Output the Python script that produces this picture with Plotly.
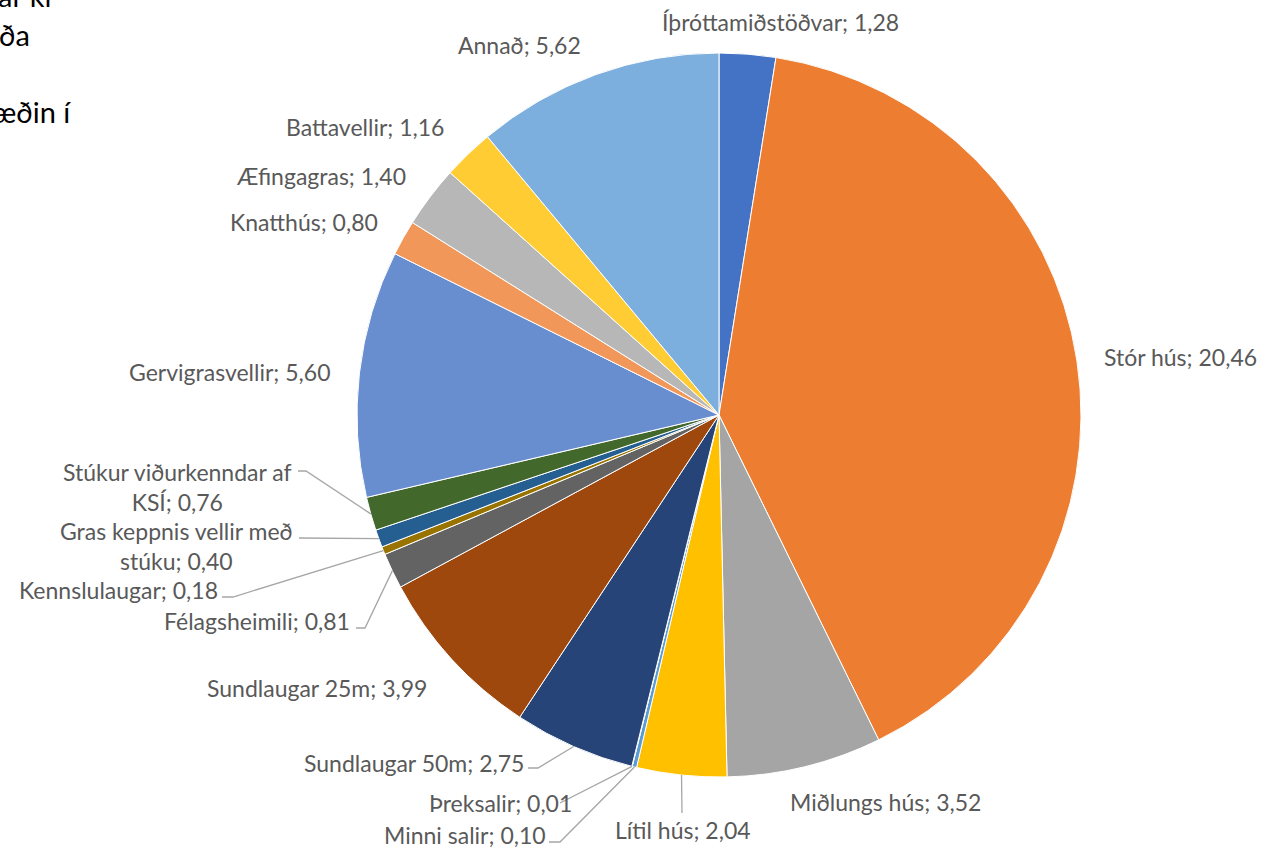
import math
import plotly.graph_objects as go

# ---------------- data ----------------
labels = ["Íþróttamiðstöðvar", "Stór hús", "Miðlungs hús", "Lítil hús", "Minni salir",
          "Þreksalir", "Sundlaugar 50m", "Sundlaugar 25m", "Félagsheimili", "Kennslulaugar",
          "Gras keppnis vellir með stúku", "Stúkur viðurkenndar af KSÍ", "Gervigrasvellir",
          "Knatthús", "Æfingagras", "Battavellir", "Annað"]
values = [1.28, 20.46, 3.52, 2.04, 0.10, 0.01, 2.75, 3.99, 0.81, 0.18, 0.40, 0.76,
          5.60, 0.80, 1.40, 1.16, 5.62]
colors = ["#4472C4", "#ED7D31", "#A5A5A5", "#FFC000", "#5B9BD5", "#70AD47", "#264478",
          "#9E480E", "#636363", "#997300", "#255E91", "#43682B", "#698ED0", "#F1975A",
          "#B7B7B7", "#FFCD33", "#7CAFDD"]
doc_text = ["ar ki", "ða", "æðin í"]   # partially visible surrounding document text

# ---------------- layout (pixels) ----------------
W, H = 1274, 849
CX, CY, R = 719, 415, 362
FONT = "Lato"
FONT_SIZE = 23
LABEL_COLOR = "#595959"
LINE_COLOR = "#A6A6A6"

wrap = {"Gras keppnis vellir með stúku": "Gras keppnis vellir með<br>stúku",
        "Stúkur viðurkenndar af KSÍ": "Stúkur viðurkenndar af<br>KSÍ"}

# label centre (px) and leader-line elbow points (px) per slice index
label_pos = {
    0: (780, 22, None),
    1: (1180, 357, None),
    2: (885, 802, None),
    3: (683, 830, [(682, 813)]),
    4: (465, 835, [(549, 842), (560, 842)]),
    5: (500, 803, [(560, 803)]),
    6: (414, 763, [(528, 768), (538, 768)]),
    7: (317, 688, None),
    8: (257, 621, [(356, 628), (365, 628)]),
    9: (118, 590, [(222, 597), (233, 597)]),
    10: (176, 546, [(299, 538)]),
    11: (177, 487, [(298, 471), (306, 471)]),
    12: (230, 372, None),
    13: (304, 222, None),
    14: (321, 176, None),
    15: (365, 127, None),
    16: (519, 45, None),
}

def px(x):
    return x / W

def py(y):
    return 1 - y / H

fig = go.Figure(go.Pie(
    labels=labels, values=values, sort=False, direction="clockwise", rotation=0,
    marker=dict(colors=colors, line=dict(color="white", width=1)),
    textinfo="none", hoverinfo="label+value", showlegend=False,
    domain=dict(x=[px(CX - R), px(CX + R)], y=[py(CY + R), py(CY - R)]),
))

total = sum(values)
annotations = []
shapes = []
cum = 0.0
for i, (lab, v) in enumerate(zip(labels, values)):
    mid = (cum + v / 2) / total * 2 * math.pi
    cum += v
    ax = CX + R * math.sin(mid)
    ay = CY - R * math.cos(mid)
    lx, ly, elbows = label_pos[i]
    txt = wrap.get(lab, lab) + "; " + f"{v:.2f}".replace(".", ",")
    annotations.append(dict(
        x=px(lx), y=py(ly), xref="paper", yref="paper", text=txt, showarrow=False,
        xanchor="center", yanchor="middle", align="center",
        font=dict(family=FONT, size=FONT_SIZE, color=LABEL_COLOR)))
    if elbows:
        pts = elbows + [(ax, ay)]
        path = "M " + " L ".join(f"{px(x):.5f},{py(y):.5f}" for x, y in pts)
        shapes.append(dict(type="path", path=path, xref="paper", yref="paper",
                           line=dict(color=LINE_COLOR, width=1.3)))

doc_pos = [(53, -4), (32, 35), (73, 111)]
for t, (x, y) in zip(doc_text, doc_pos):
    annotations.append(dict(
        x=px(x), y=py(y), xref="paper", yref="paper", text=t, showarrow=False,
        xanchor="right", yanchor="middle",
        font=dict(family=FONT, size=29, color="#000000")))

fig.update_layout(
    width=W, height=H, margin=dict(l=0, r=0, t=0, b=0),
    paper_bgcolor="white", plot_bgcolor="white",
    annotations=annotations, shapes=shapes,
)

fig.write_html("out.html", config={"displayModeBar": False},
               post_script="document.body.style.margin='0';document.body.style.overflow='hidden';")
